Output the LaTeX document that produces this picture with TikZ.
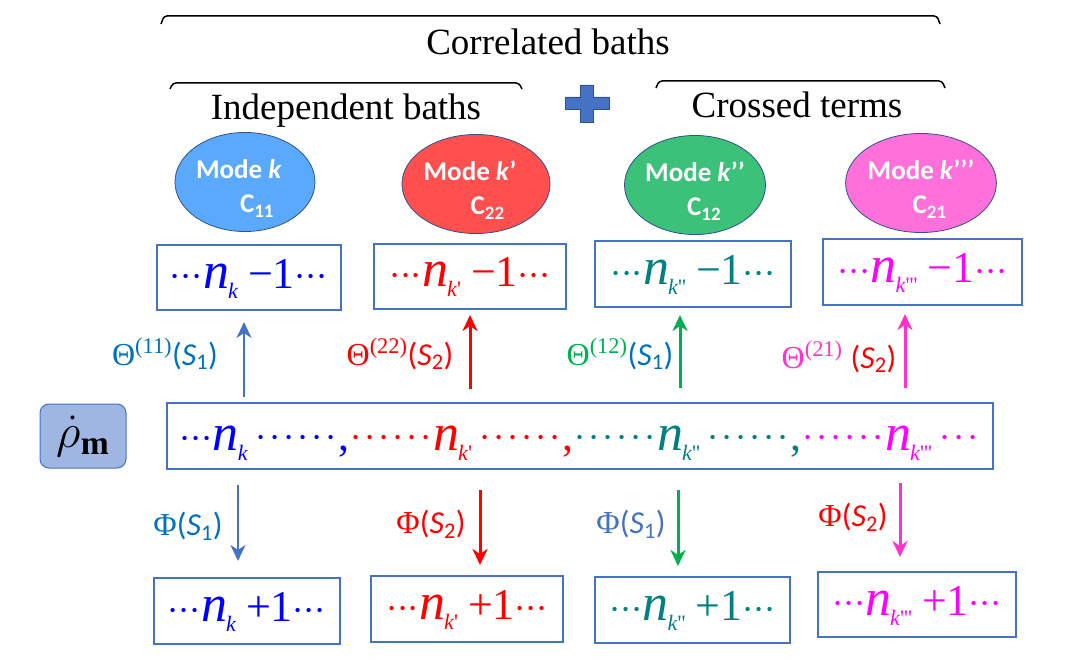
\RequirePackage{fix-cm}
\documentclass[tikz,border=0pt]{standalone}
\usepackage{amsmath}
\usepackage{amssymb}
\usepackage{fontspec}
\setmainfont{Liberation Serif}
\newfontfamily\calibri{Carlito}
\usetikzlibrary{arrows.meta,shapes.geometric}

\definecolor{boxblue}{HTML}{4472C4}
\definecolor{ellline}{HTML}{2F528F}
\definecolor{ellblue}{HTML}{5BA9FC}
\definecolor{ellred}{HTML}{FF4F4F}
\definecolor{ellgreen}{HTML}{3BC178}
\definecolor{ellpink}{HTML}{FF70DB}
\definecolor{tblue}{HTML}{0000FF}
\definecolor{tred}{HTML}{FF0000}
\definecolor{tteal}{HTML}{008080}
\definecolor{tmag}{HTML}{FF00FF}
\definecolor{lblue}{HTML}{0070C0}
\definecolor{lgreen}{HTML}{00B050}
\definecolor{lmag}{HTML}{FF33CC}
\definecolor{rhofill}{HTML}{9FB6E2}

\newcommand{\fs}[1]{\fontsize{#1}{#1}\selectfont}
\newcommand{\tq}{\textquotesingle}
\newcommand{\nsub}[1]{{\fs{52}\textit{n}}\hspace{-1pt}\raisebox{-10pt}{\fs{22}\textit{k}#1}}
\newcommand{\bd}{\raisebox{1.5pt}{\fs{40}$\cdot$}}
\newcommand{\tdots}{\makebox[11pt]{\bd}\makebox[11pt]{\bd}\makebox[11pt]{\bd}}
\newcommand{\md}{\makebox[14pt]{\raisebox{1pt}{\bd}}}
\newcommand{\sixdots}{\md\md\md\md\md\md}
\newcommand{\lowS}[1]{{\calibri(\textit{S}\textsubscript{#1})}}
\newcommand{\up}{\rule{0pt}{32pt}}

\begin{document}
\begin{tikzpicture}[x=1pt,y=-1pt,
	heading/.style={anchor=base,font=\fs{37}},
	brace/.style={line width=1.5pt,rounded corners=3pt},
	mode/.style={ellipse,draw=ellline,line width=0.8pt,inner sep=0pt,minimum width=140pt,minimum height=88pt,
		text=white,align=left,font=\calibri\bfseries\fontsize{27}{34}\selectfont},
	nbox/.style={draw=boxblue,line width=2pt,inner sep=0pt,text height=29pt,text depth=8pt,minimum height=65pt,font=\fs{44}},
	lab/.style={font=\fs{32},inner sep=0pt},
	arr/.style={line width=2.5pt,-{Stealth[length=16pt,width=15pt,inset=5pt]}}]
	\useasboundingbox (0,0) rectangle (1073,660);

	% headings and braces
	\node[heading] (corr) at (548,55) {Correlated baths};
	\node[heading] (indep) at (346,120) {Independent baths};
	\node[heading] (cross) at (797,118) {Crossed terms};
	\draw[brace] (161,24) -- (164,16) -- (937,16) -- (940,24);
	\draw[brace] (170,89) -- (173,83) -- (519,83) -- (522,89);
	\draw[brace] (656,88) -- (659,81) -- (942,81) -- (945,88);
	\fill[boxblue,draw=ellline,line width=0.5pt] (580,85) -- (593,85) -- (593,97) -- (609,97) -- (609,109) -- (593,109)
		-- (593,122) -- (580,122) -- (580,109) -- (565,109) -- (565,97) -- (580,97) -- cycle;

	% modes
	\node[mode,fill=ellblue] (m1) at (245,182) {\up Mode \textit{k}\hspace*{12pt}\\\hspace*{44pt}C\textsubscript{11}};
	\node[mode,fill=ellred,minimum width=145pt,minimum height=85pt] (m2) at (476,184) {\up Mode \textit{k}’\hspace*{12pt}\\\hspace*{47pt}C\textsubscript{22}};
	\node[mode,fill=ellgreen,minimum width=136pt,minimum height=86pt] (m3) at (695,185) {\up Mode \textit{k}’’\\\hspace*{42pt}C\textsubscript{12}};
	\node[mode,fill=ellpink] (m4) at (921,183) {\up Mode \textit{k}’’’\\\hspace*{45pt}C\textsubscript{21}};

	% n_k - 1 row
	\node[nbox,minimum width=184pt,text=tblue] (t1) at (249,277.5) {\tdots\nsub{}\hspace{10pt}−1\tdots};
	\node[nbox,minimum width=192pt,text=tred] (t2) at (470,276.5) {\tdots\nsub{\tq}\hspace{10pt}−1\tdots};
	\node[nbox,minimum width=196pt,text=tteal] (t3) at (693,274) {\tdots\nsub{\tq\tq}\hspace{10pt}−1\tdots};
	\node[nbox,minimum width=199pt,text=tmag] (t4) at (922.5,272) {\tdots\nsub{\tq\tq\tq}\hspace{10pt}−1\tdots};

	% density matrix row
	\node[draw=boxblue,fill=rhofill,line width=1pt,rounded corners=9pt,minimum width=86pt,minimum height=64pt,font=\fs{48}] (rho) at (83,436) {$\dot{\rho}_{\mathbf{m}}$};
	\node[nbox,minimum width=826pt,minimum height=66pt,text height=30pt,text depth=2pt] (mid) at (580,436)
		{{\color{tblue}\tdots\nsub{}\hspace{6pt}\sixdots,}{\color{tred}\sixdots\nsub{\tq}\hspace{6pt}\sixdots,}{\color{tteal}\sixdots\nsub{\tq\tq}\hspace{6pt}\sixdots,}{\color{tmag}\sixdots\nsub{\tq\tq\tq}\hspace{6pt}\md\md\md}};

	% n_k + 1 row
	\node[nbox,minimum width=186pt,minimum height=66pt,text=tblue] (b1) at (247,611) {\tdots\nsub{}\hspace{10pt}+1\tdots};
	\node[nbox,minimum width=192pt,minimum height=66pt,text=tred] (b2) at (467,609) {\tdots\nsub{\tq}\hspace{10pt}+1\tdots};
	\node[nbox,minimum width=195pt,minimum height=66pt,text=tteal] (b3) at (692.5,610) {\tdots\nsub{\tq\tq}\hspace{10pt}+1\tdots};
	\node[nbox,minimum width=198pt,text=tmag] (b4) at (917,604.5) {\tdots\nsub{\tq\tq\tq}\hspace{10pt}+1\tdots};

	% arrow ends
	\coordinate (u1a) at (244,397); \coordinate (u1b) at (244,322);
	\coordinate (u2a) at (470,389); \coordinate (u2b) at (470,315);
	\coordinate (u3a) at (680,388); \coordinate (u3b) at (680,315);
	\coordinate (u4a) at (905,388); \coordinate (u4b) at (905,314);
	\coordinate (d1a) at (238,485); \coordinate (d1b) at (238,561);
	\coordinate (d2a) at (480,490); \coordinate (d2b) at (480,565);
	\coordinate (d3a) at (678,490); \coordinate (d3b) at (678,566);
	\coordinate (d4a) at (900,483); \coordinate (d4b) at (900,557);

	\draw[arr,boxblue] (u1a) -- (u1b);
	\draw[arr,tred,line width=3pt] (u2a) -- (u2b);
	\draw[arr,lgreen,line width=3pt] (u3a) -- (u3b);
	\draw[arr,lmag,line width=3pt] (u4a) -- (u4b);
	\draw[arr,boxblue] (d1a) -- (d1b);
	\draw[arr,tred,line width=3pt] (d2a) -- (d2b);
	\draw[arr,lgreen,line width=3pt] (d3a) -- (d3b);
	\draw[arr,lmag,line width=3pt] (d4a) -- (d4b);

	% arrow labels
	\node[lab,text=lblue] (lu1) at (165,354) {Θ\textsuperscript{(11)}\lowS{1}};
	\node[lab,text=tred] (lu2) at (400,354) {Θ\textsuperscript{(22)}\lowS{2}};
	\node[lab,text=lgreen] (lu3) at (620,354) {Θ\textsuperscript{(12)}{\color{lblue}\lowS{1}}};
	\node[lab,text=lmag] (lu4) at (839,357) {Θ\textsuperscript{(21)} {\color{tred}\lowS{2}}};
	\node[lab,text=lblue] (ld1) at (188,526) {Φ\lowS{1}};
	\node[lab,text=tred] (ld2) at (431,524) {Φ\lowS{2}};
	\node[lab,text=boxblue] (ld3) at (631,524) {Φ\lowS{1}};
	\node[lab,text=tred] (ld4) at (853,517) {Φ\lowS{2}};
\end{tikzpicture}
\end{document}
